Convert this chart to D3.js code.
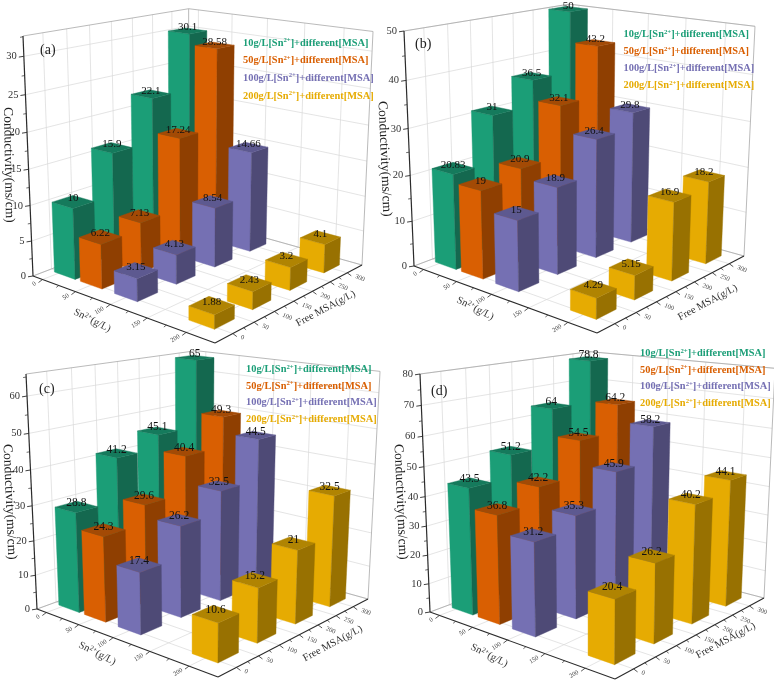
<!DOCTYPE html>
<html><head><meta charset="utf-8">
<script src="https://cdn.jsdelivr.net/npm/d3@7/dist/d3.min.js"></script>
<style>html,body{margin:0;background:#fff}svg{display:block;filter:blur(0.35px)}text{font-family:"Liberation Serif",serif}</style>
</head><body><div id="c"></div>
<script>
// ---- data ----
const snLevels = [10, 50, 100, 200];
const msaLevels = [17, 107, 203, 298];
const snTicks = [0, 50, 100, 150, 200];
const msaTicks = [0, 50, 100, 150, 200, 250, 300];
const seriesNames = ["10g/L[Sn", "50g/L[Sn", "100g/L[Sn", "200g/L[Sn"];
const valuesA = [[10,15.9,22.1,30.1],[6.22,7.13,17.24,28.58],[3.15,4.13,8.54,14.66],[1.88,2.43,3.2,4.1]];
const valuesB = [[20.83,31,36.5,50],[19,20.9,32.1,43.2],[15,18.9,26.4,29.8],[4.29,5.15,16.9,18.2]];
const valuesC = [[28.8,41.2,45.1,65],[24.3,29.6,40.4,49.3],[17.4,26.2,32.5,44.5],[10.6,15.2,21,32.5]];
const valuesD = [[43.5,51.2,64,78.8],[36.8,42.2,54.5,64.2],[31.2,35.3,45.9,58.2],[20.4,26.2,40.2,44.1]];
const colFront = ["#1b9e77","#d95f02","#7570b3","#e6ab02"];
const colSide  = ["#14684f","#8f3f01","#4e4a76","#987101"];
const colTop   = ["#157a5c","#a34a05","#5d5990","#b08402"];
const panels = [
 {name:"(a)",values:valuesA,zMax:32.6,zStep:5,L:[33,276],F:[215,343],R:[362,265],tL:[23,36],tR:[373,32],tB:[187,9],
  tag:[40,54],leg:[243,45.5,17.7],legFs:10.4,lab:11,zT:[5,165,89],sT:[91,323],mT:[327,311]},
 {name:"(b)",values:valuesB,zMax:50,zStep:10,L:[414,266],F:[597,333],R:[744,256],tL:[404,31],tR:[755,26],tB:[570,4],
  tag:[415,48],leg:[623.5,37,17],legFs:10.4,lab:11,zT:[381,159,87.5],sT:[474,311],mT:[709,305]},
 {name:"(c)",values:valuesC,zMax:65.8,zStep:10,L:[37,609],F:[218,677],R:[368,599],tL:[26,374],tR:[380,372],tB:[194,351],
  tag:[39,393],leg:[246,372,16.7],legFs:10.4,lab:11.5,zT:[6,502,87.5],sT:[96,656],mT:[334,646]},
 {name:"(d)",values:valuesD,zMax:80,zStep:10,L:[430,612],F:[615,679],R:[764,598],tL:[420,374],tR:[775,369],tB:[587,352],
  tag:[431,395],leg:[640,356,16.7],legFs:10.4,lab:11.5,zT:[397,502,87.5],sT:[488,658],mT:[727,643]}
];
const snDomain = [-15, 235], msaDomain = [-40, 345];
const hs = 16, hm = 23;

const svg = d3.select("#c").append("svg").attr("width",774).attr("height",680);

function inter(p1,p2,p3,p4){
  const a1=p2[1]-p1[1],b1=p1[0]-p2[0],c1=a1*p1[0]+b1*p1[1];
  const a2=p4[1]-p3[1],b2=p3[0]-p4[0],c2=a2*p3[0]+b2*p3[1];
  const d=a1*b2-a2*b1;
  return [(c1*b2-c2*b1)/d,(a1*c2-a2*c1)/d];
}
function makeProjection(p){
  const vp2=inter(p.F,p.R,p.tL,p.tB), vp1=inter(p.L,p.F,p.tR,p.tB);
  const B=inter(p.L,vp2,p.R,vp1);
  const V=inter(p.L,p.tL,p.R,p.tR);
  const [x0,y0]=p.L,[x1,y1]=p.F,[x2,y2]=p.R,[x3,y3]=B;
  const dx1=x1-x2,dx2=x3-x2,sx=x0-x1+x2-x3,dy1=y1-y2,dy2=y3-y2,sy=y0-y1+y2-y3;
  const det=dx1*dy2-dx2*dy1;
  const g=(sx*dy2-dx2*sy)/det,h=(dx1*sy-sx*dy1)/det;
  const a=x1-x0+g*x1,b=x3-x0+h*x3,c=x0,d=y1-y0+g*y1,e=y3-y0+h*y3,f=y0;
  const k=(p.L[1]-p.tL[1])/(p.tL[1]-V[1]);
  const su=d3.scaleLinear().domain(snDomain).range([0,1]);
  const sv=d3.scaleLinear().domain(msaDomain).range([0,1]);
  const sz=d3.scaleLinear().domain([0,p.zMax]).range([0,1]);
  return (sn,msa,zv)=>{
    const u=su(sn),v=sv(msa),z=sz(zv);
    const w=g*u+h*v+1+k*z;
    return [(a*u+b*v+c+k*z*V[0])/w,(d*u+e*v+f+k*z*V[1])/w];
  };
}
const line=d3.line();
panels.forEach(p=>{
  const P=makeProjection(p);
  const g=svg.append("g");
  const [s0,s1]=snDomain,[m0,m1]=msaDomain,zm=p.zMax;
  const grid="#d9d9d9", edge="#a8a8a8";
  const seg=(a,b,col,w)=>g.append("path").attr("d",line([a,b])).attr("stroke",col).attr("stroke-width",w).attr("fill","none");
  const zTicks=d3.range(0,zm+0.001,p.zStep);
  // grids
  zTicks.forEach(z=>{ seg(P(s0,m0,z),P(s0,m1,z),grid,.7); seg(P(s0,m1,z),P(s1,m1,z),grid,.7); });
  msaTicks.forEach(m=>{ seg(P(s0,m,0),P(s0,m,zm),grid,.7); seg(P(s0,m,0),P(s1,m,0),grid,.7); });
  snTicks.forEach(s=>{ seg(P(s,m1,0),P(s,m1,zm),grid,.7); seg(P(s,m0,0),P(s,m1,0),grid,.7); });
  seg(P(s0,m0,zm),P(s0,m1,zm),edge,.8); seg(P(s0,m1,zm),P(s1,m1,zm),edge,.8);
  seg(P(s1,m1,0),P(s1,m1,zm),edge,.8); seg(P(s0,m1,0),P(s0,m1,zm),edge,.8);
  seg(P(s0,m0,0),P(s0,m1,0),edge,.8); seg(P(s0,m1,0),P(s1,m1,0),edge,.8);
  // axes
  const ax="#2b2b2b";
  seg(P(s0,m0,0),P(s0,m0,zm),ax,1.2); seg(P(s0,m0,0),P(s1,m0,0),ax,1.1); seg(P(s1,m0,0),P(s1,m1,0),ax,1.1);
  zTicks.forEach(z=>{
    const q=P(s0,m0,z);
    seg(q,[q[0]-5,q[1]+.8],ax,.9);
    g.append("text").attr("x",q[0]-7).attr("y",q[1]+3).attr("text-anchor","end").attr("font-size",10.5).attr("fill","#333").text(z);
    if(z+p.zStep/2<=zm){const q2=P(s0,m0,z+p.zStep/2);seg(q2,[q2[0]-3,q2[1]+.5],ax,.7);}
  });
  snTicks.forEach(s=>{
    const q=P(s,m0,0), d=[-4,3];
    seg(q,[q[0]+d[0],q[1]+d[1]],ax,.8);
    if(s<200){const q2=P(s+25,m0,0);seg(q2,[q2[0]-2.5,q2[1]+2],ax,.7);}
    g.append("text").attr("transform",`translate(${q[0]-6},${q[1]+5}) rotate(-32)`).attr("text-anchor","end").attr("font-size",6.5).attr("fill","#444").text(s);
  });
  msaTicks.forEach(m=>{
    const q=P(s1,m,0), d=[4,3];
    seg(q,[q[0]+d[0],q[1]+d[1]],ax,.8);
    if(m<300){const q2=P(s1,m+25,0);seg(q2,[q2[0]+2.5,q2[1]+2],ax,.7);}
    g.append("text").attr("transform",`translate(${q[0]+7.5},${q[1]+5}) rotate(22)`).attr("text-anchor","start").attr("font-size",6.5).attr("fill","#444").text(m);
  });
  // bars, far to near
  snLevels.forEach((sn,i)=>{
    d3.range(3,-1,-1).forEach(j=>{
      const z=p.values[i][j], m=msaLevels[j];
      const poly=(pts,col)=>g.append("path").attr("d",line(pts)+"Z").attr("fill",col).attr("stroke",col).attr("stroke-width",.4);
      const a=[sn-hs,m-hm],b=[sn+hs,m-hm],c=[sn+hs,m+hm],e=[sn-hs,m+hm];
      poly([P(...a,0),P(...b,0),P(...b,z),P(...a,z)],colFront[i]);
      poly([P(...b,0),P(...c,0),P(...c,z),P(...b,z)],colSide[i]);
      poly([P(...a,z),P(...b,z),P(...c,z),P(...e,z)],colTop[i]);
    });
  });
  // value labels
  snLevels.forEach((sn,i)=>msaLevels.forEach((m,j)=>{
    const q=P(sn,m,p.values[i][j]);
    g.append("text").attr("x",q[0]).attr("y",q[1]-0.5).attr("text-anchor","middle").attr("font-size",p.lab).attr("fill","#111").text(p.values[i][j]);
  }));
  // legend
  seriesNames.forEach((n,i)=>{
    const t=g.append("text").attr("x",p.leg[0]).attr("y",p.leg[1]+i*p.leg[2]).attr("font-size",p.legFs).attr("font-weight","bold").attr("fill",colFront[i]);
    t.append("tspan").text(n);
    t.append("tspan").attr("dy",-3.5).attr("font-size",p.legFs*.65).text("2+");
    t.append("tspan").attr("dy",3.5).text("]+different[MSA]");
  });
  // titles
  g.append("text").attr("x",p.tag[0]).attr("y",p.tag[1]).attr("font-size",14).attr("fill","#222").text(p.name);
  g.append("text").attr("transform",`translate(${p.zT[0]},${p.zT[1]}) rotate(${p.zT[2]})`).attr("text-anchor","middle").attr("font-size",13.5).attr("fill","#222").text("Conductivity(ms/cm)");
  const st=g.append("text").attr("transform",`translate(${p.sT[0]},${p.sT[1]}) rotate(27)`).attr("text-anchor","middle").attr("font-size",10.5).attr("fill","#333");
  st.append("tspan").text("Sn");
  st.append("tspan").attr("dy",-3).attr("font-size",7).text("2+");
  st.append("tspan").attr("dy",3).text("(g/L)");
  g.append("text").attr("transform",`translate(${p.mT[0]},${p.mT[1]}) rotate(-28)`).attr("text-anchor","middle").attr("font-size",10.5).attr("fill","#333").text("Free MSA(g/L)");
});
</script></body></html>
